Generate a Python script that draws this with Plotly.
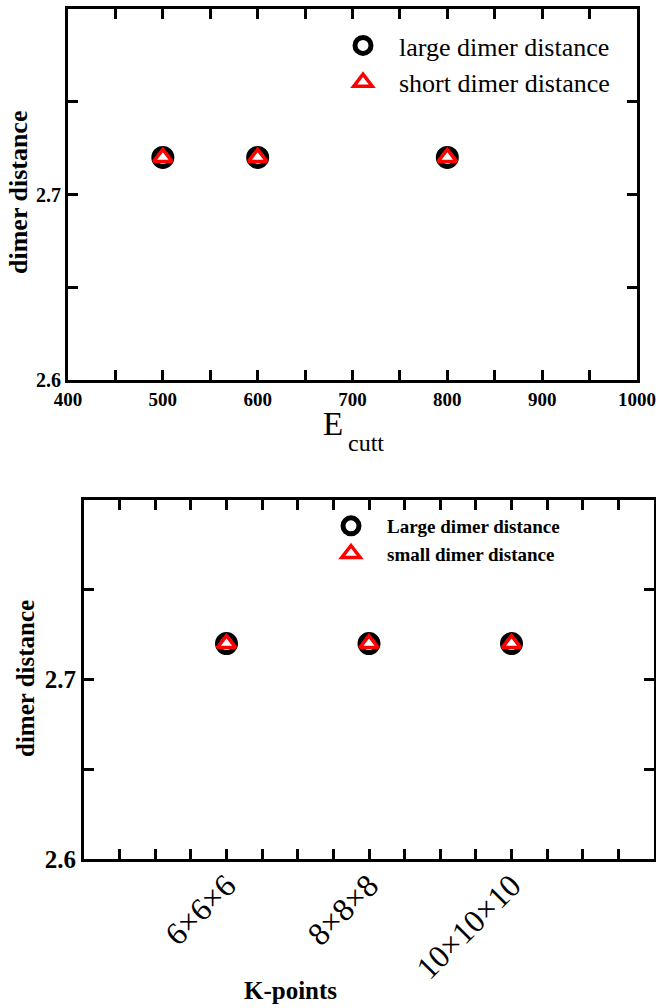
import plotly.graph_objects as go

# ---- data ----
ecut = [500, 600, 800]
large_top = [2.72, 2.72, 2.72]
short_top = [2.72, 2.72, 2.72]

kpt_pos = [6, 8, 10]
kpt_labels = ["6×6×6", "8×8×8", "10×10×10"]
large_bot = [2.72, 2.72, 2.72]
small_bot = [2.72, 2.72, 2.72]

W, H = 656, 1008
SERIF = "Liberation Serif"

def px_x(p):
    return p / W

def px_y(p):
    return 1 - p / H

circle = dict(symbol="circle-open", size=18, color="black", line=dict(color="black", width=5))
tri = dict(symbol="triangle-up", size=16, color="white", line=dict(color="red", width=3.5))

fig = go.Figure()
fig.add_trace(go.Scatter(x=ecut, y=large_top, mode="markers", marker=circle,
                         name="large dimer distance", xaxis="x", yaxis="y", legend="legend"))
fig.add_trace(go.Scatter(x=ecut, y=short_top, mode="markers", marker=tri,
                         name="short dimer distance", xaxis="x", yaxis="y", legend="legend"))
fig.add_trace(go.Scatter(x=kpt_pos, y=large_bot, mode="markers", marker=circle,
                         name="Large dimer distance", xaxis="x2", yaxis="y2", legend="legend2"))
fig.add_trace(go.Scatter(x=kpt_pos, y=small_bot, mode="markers", marker=tri,
                         name="small dimer distance", xaxis="x2", yaxis="y2", legend="legend2"))

axis_common = dict(showline=True, linecolor="black", linewidth=3, mirror="allticks",
                   ticks="inside", ticklen=10, tickwidth=3, tickcolor="black",
                   showgrid=False, zeroline=False, automargin=False)
minor_common = dict(ticks="inside", ticklen=10, tickwidth=3, tickcolor="black", showgrid=False)

fig.update_layout(
    width=W, height=H,
    margin=dict(l=0, r=0, t=0, b=0, pad=0, autoexpand=False),
    paper_bgcolor="white", plot_bgcolor="white",
    font=dict(family=SERIF, color="black"),
    xaxis=dict(domain=[px_x(68), px_x(637)], anchor="y", range=[400, 1000],
               tickmode="linear", tick0=400, dtick=100, ticklabeloverflow="allow",
               minor=dict(dtick=50, tick0=400, **minor_common),
               tickfont=dict(family=SERIF, size=19, weight="bold"), **axis_common),
    xaxis3=dict(matches="x", overlaying="x", side="top", anchor="y", range=[400, 1000],
                tickmode="linear", tick0=400, dtick=100, showticklabels=False,
                minor=dict(dtick=50, tick0=400, **minor_common), **axis_common),
    yaxis=dict(domain=[px_y(380), px_y(9)], anchor="x", range=[2.6, 2.8],
               tickmode="array", tickvals=[2.6, 2.7], ticklabeloverflow="allow",
               minor=dict(dtick=0.05, tick0=2.6, **minor_common),
               tickfont=dict(family=SERIF, size=20, weight="bold"), **axis_common),
    xaxis2=dict(domain=[px_x(84), px_x(654)], anchor="y2", range=[4, 12],
                tickmode="array", tickvals=kpt_pos, ticktext=kpt_labels, tickangle=-45,
                ticklabeloverflow="allow", ticklabelstandoff=-8,
                minor=dict(dtick=0.5, tick0=4, **minor_common),
                tickfont=dict(family=SERIF, size=32), **axis_common),
    yaxis2=dict(domain=[px_y(859), px_y(500)], anchor="x2", range=[2.6, 2.8],
                tickmode="array", tickvals=[2.6, 2.7], ticklabeloverflow="allow",
                minor=dict(dtick=0.05, tick0=2.6, **minor_common),
                tickfont=dict(family=SERIF, size=25, weight="bold"), **axis_common),
    legend=dict(x=px_x(327), y=px_y(22), xanchor="left", yanchor="top",
                bgcolor="rgba(0,0,0,0)", borderwidth=0, itemwidth=62,
                font=dict(family=SERIF, size=26), itemsizing="trace", tracegroupgap=0),
    legend2=dict(x=px_x(315), y=px_y(507), xanchor="left", yanchor="top",
                 bgcolor="rgba(0,0,0,0)", borderwidth=0, itemwidth=62,
                 font=dict(family=SERIF, size=19, weight="bold"), itemsizing="trace"),
    showlegend=True,
    annotations=[
        dict(text="dimer distance", xref="paper", yref="paper", x=px_x(18), y=px_y(193),
             xanchor="center", yanchor="middle", textangle=-90, showarrow=False,
             font=dict(family=SERIF, size=26, weight="bold")),
        dict(text="E", xref="paper", yref="paper", x=px_x(321), y=px_y(424),
             xanchor="left", yanchor="middle", showarrow=False,
             font=dict(family=SERIF, size=33)),
        dict(text="cutt", xref="paper", yref="paper", x=px_x(346), y=px_y(443),
             xanchor="left", yanchor="middle", showarrow=False,
             font=dict(family=SERIF, size=24)),
        dict(text="dimer distance", xref="paper", yref="paper", x=px_x(25), y=px_y(679),
             xanchor="center", yanchor="middle", textangle=-90, showarrow=False,
             font=dict(family=SERIF, size=25, weight="bold")),
        dict(text="K-points", xref="paper", yref="paper", x=px_x(290), y=px_y(990),
             xanchor="center", yanchor="middle", showarrow=False,
             font=dict(family=SERIF, size=25, weight="bold")),
    ],
)

fig.write_html("out.html", config={"displayModeBar": False},
               post_script="document.body.style.margin='0';document.body.style.overflow='hidden';")
